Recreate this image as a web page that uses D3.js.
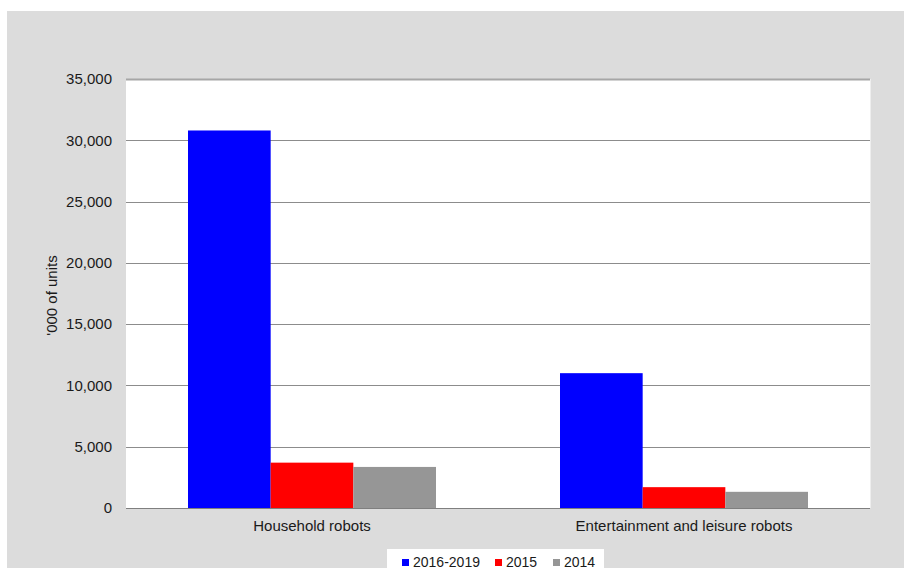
<!DOCTYPE html>
<html>
<head>
<meta charset="utf-8">
<script src="https://cdn.jsdelivr.net/npm/d3@7"></script>
<style>
  html, body { margin: 0; padding: 0; background: #ffffff; }
  svg { display: block; font-family: "Liberation Sans", Arial, sans-serif; }
</style>
</head>
<body>
<svg id="chart" width="904" height="568"></svg>
<script>
// Robot sales by category and period ('000 of units)
const categories = ["Household robots", "Entertainment and leisure robots"];
const seriesNames = ["2016-2019", "2015", "2014"];
const seriesColors = ["#0000ff", "#ff0000", "#969696"];
const values2016to2019 = [30800, 11000];
const values2015 = [3700, 1700];
const values2014 = [3350, 1320];
const yTicks = [0, 5000, 10000, 15000, 20000, 25000, 30000, 35000];

const seriesValues = [values2016to2019, values2015, values2014];

const svg = d3.select("#chart");

// Outer grey panel
svg.append("rect")
  .attr("x", 7).attr("y", 11)
  .attr("width", 897).attr("height", 557)
  .attr("fill", "#dcdcdc");

const plot = { left: 126, right: 870, top: 79, bottom: 508 };

const x0 = d3.scaleBand()
  .domain(categories)
  .range([plot.left, plot.right])
  .paddingInner(0)
  .paddingOuter(0);

// Excel-style gap width: 150% of a bar on the group sides
const barW = x0.bandwidth() / (seriesNames.length + 1.5);
const x1 = d3.scaleBand()
  .domain(seriesNames)
  .range([0, barW * seriesNames.length])
  .padding(0);

const y = d3.scaleLinear()
  .domain([0, 35000])
  .range([plot.bottom, plot.top]);

// Plot area background
svg.append("rect")
  .attr("x", plot.left).attr("y", plot.top)
  .attr("width", plot.right - plot.left)
  .attr("height", plot.bottom - plot.top)
  .attr("fill", "#ffffff");

svg.append("line")
  .attr("x1", plot.right + 0.5).attr("x2", plot.right + 0.5)
  .attr("y1", plot.top).attr("y2", plot.bottom)
  .attr("stroke", "#eeeeee").attr("stroke-width", 1);

// Horizontal gridlines
svg.append("g")
  .selectAll("line")
  .data(yTicks.filter(d => d > 0))
  .join("line")
  .attr("x1", plot.left).attr("x2", plot.right)
  .attr("y1", d => Math.round(y(d)) + 0.5)
  .attr("y2", d => Math.round(y(d)) + 0.5)
  .attr("stroke", d => d === 35000 ? "#a6a6a6" : "#8c8c8c")
  .attr("stroke-width", d => d === 35000 ? 2 : 1);

// Bars
const groups = svg.append("g")
  .selectAll("g")
  .data(categories)
  .join("g")
  .attr("transform", d => `translate(${x0(d) + (x0.bandwidth() - barW * seriesNames.length) / 2},0)`);

groups.selectAll("rect")
  .data((c, ci) => seriesNames.map((s, si) => ({ s, si, v: seriesValues[si][ci] })))
  .join("rect")
  .attr("x", d => x1(d.s))
  .attr("width", x1.bandwidth())
  .attr("y", d => y(d.v))
  .attr("height", d => y(0) - y(d.v))
  .attr("fill", d => seriesColors[d.si]);

// Baseline axis
svg.append("line")
  .attr("x1", plot.left).attr("x2", plot.right)
  .attr("y1", plot.bottom + 0.5).attr("y2", plot.bottom + 0.5)
  .attr("stroke", "#7f7f7f").attr("stroke-width", 1.2);

// Y axis tick labels
const yAxis = d3.axisLeft(y)
  .tickValues(yTicks)
  .tickSize(0)
  .tickPadding(14)
  .tickFormat(d3.format(","));
const yg = svg.append("g")
  .attr("transform", `translate(${plot.left},0)`)
  .call(yAxis);
yg.select(".domain").remove();
yg.selectAll("text")
  .attr("font-size", 15)
  .attr("font-family", "Liberation Sans, Arial, sans-serif")
  .attr("fill", "#1a1a1a");

// X axis category labels
const xAxis = d3.axisBottom(x0).tickSize(0).tickPadding(12);
const xg = svg.append("g")
  .attr("transform", `translate(0,${plot.bottom})`)
  .call(xAxis);
xg.select(".domain").remove();
xg.selectAll("text")
  .attr("font-size", 15)
  .attr("font-family", "Liberation Sans, Arial, sans-serif")
  .attr("fill", "#1a1a1a");

// Y axis title
svg.append("text")
  .attr("transform", `translate(57,${(plot.top + plot.bottom) / 2 + 2}) rotate(-90)`)
  .attr("text-anchor", "middle")
  .attr("font-size", 15)
  .attr("fill", "#1a1a1a")
  .text("'000 of units");

// Legend
const legend = svg.append("g");
legend.append("rect")
  .attr("x", 387).attr("y", 549)
  .attr("width", 217).attr("height", 22)
  .attr("fill", "#ffffff");

const legendX = [402, 495, 553];
const items = legend.selectAll("g")
  .data(seriesNames)
  .join("g")
  .attr("transform", (d, i) => `translate(${legendX[i]},0)`);
items.append("rect")
  .attr("x", 0).attr("y", 559)
  .attr("width", 7).attr("height", 7)
  .attr("fill", (d, i) => seriesColors[i]);
items.append("text")
  .attr("x", 11).attr("y", 566.5)
  .attr("font-size", 14)
  .attr("fill", "#1a1a1a")
  .text(d => d);
</script>
</body>
</html>
